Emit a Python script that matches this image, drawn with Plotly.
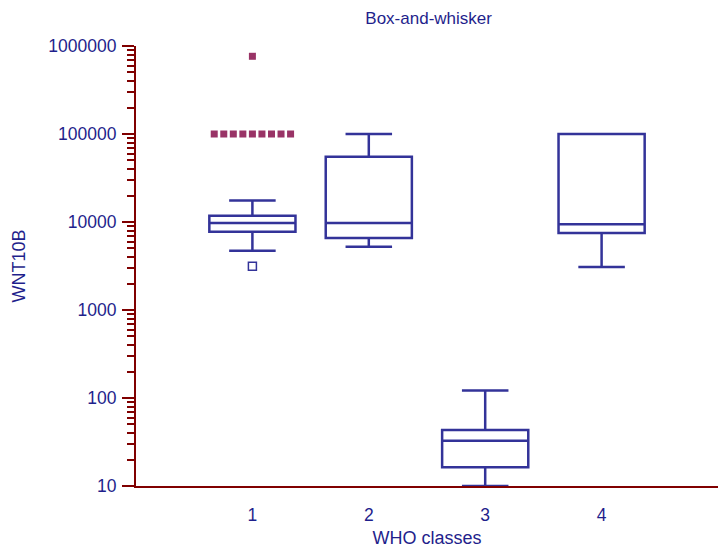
import plotly.graph_objects as go

# ---- data ----
categories = [1, 2, 3, 4]
q1 = [7760, 6580, 16.3, 7500]
median = [9770, 9770, 32.7, 9420]
q3 = [11800, 55200, 43.3, 100000]
lower_whisker = [4720, 5240, 10, 3080]
upper_whisker = [17500, 100000, 122, 100000]

# outliers of class 1
far_out_class = [1] * 10
far_out_values = [100000] * 9 + [764000]
near_out_class = [1]
near_out_values = [3150]

tick_vals = [10, 100, 1000, 10000, 100000, 1000000]
tick_text = ["10", "100", "1000", "10000", "100000", "1000000"]

TEXT = "#1f1f8c"
AXIS = "#800000"
BOX = "#333399"
OUT = "#993366"
FONT = "Liberation Sans, Arial, sans-serif"

fig = go.Figure()

fig.add_trace(go.Box(
    x=categories, q1=q1, median=median, q3=q3,
    lowerfence=lower_whisker, upperfence=upper_whisker,
    boxpoints=False, width=0.74, whiskerwidth=0.54,
    line=dict(color=BOX, width=2.5), fillcolor="rgba(255,255,255,0)",
    showlegend=False,
))

# spread the identical far outliers horizontally (jitter by order)
spacing = 0.082
n = sum(1 for v in far_out_values if v == 100000)
far_x = []
k = 0
for c, v in zip(far_out_class, far_out_values):
    if v == 100000:
        far_x.append(c + (k - (n - 1) / 2) * spacing)
        k += 1
    else:
        far_x.append(c)

fig.add_trace(go.Scatter(
    x=far_x, y=far_out_values, mode="markers",
    marker=dict(symbol="square", size=7, color=OUT),
    showlegend=False, cliponaxis=False,
))
fig.add_trace(go.Scatter(
    x=near_out_class, y=near_out_values, mode="markers",
    marker=dict(symbol="square-open", size=8, color=BOX, line=dict(width=1.5)),
    showlegend=False,
))

fig.update_layout(
    width=718, height=548,
    margin=dict(l=136, r=0, t=46, b=62),
    paper_bgcolor="white", plot_bgcolor="white",
    font=dict(family=FONT, color=TEXT, size=17),
    title=dict(text="Box-and-whisker", x=0.597, xanchor="center", y=0.967, yanchor="middle",
               font=dict(size=17, color=TEXT)),
    xaxis=dict(
        range=[0, 5], tickvals=categories, ticktext=[str(c) for c in categories],
        showgrid=False, zeroline=False, showline=True, linecolor=AXIS, linewidth=2,
        ticks="outside", ticklen=12, tickcolor="rgba(0,0,0,0)",
        tickfont=dict(size=17.5, color=TEXT),
        title=dict(text="WHO classes", font=dict(size=18, color=TEXT), standoff=8),
        layer="below traces",
    ),
    yaxis=dict(
        type="log", range=[1, 6], tickvals=tick_vals, ticktext=tick_text,
        showgrid=False, zeroline=False, showline=True, linecolor=AXIS, linewidth=2,
        ticks="outside", ticklen=12, tickwidth=2, tickcolor=AXIS,
        minor=dict(ticks="outside", ticklen=7, tickwidth=1.5, tickcolor=AXIS, dtick="D1", showgrid=False),
        tickfont=dict(size=17.5, color=TEXT), ticklabelstandoff=2,
        title=dict(text="WNT10B", font=dict(size=18, color=TEXT), standoff=18),
        layer="below traces",
    ),
)

fig.write_html("out.html")
